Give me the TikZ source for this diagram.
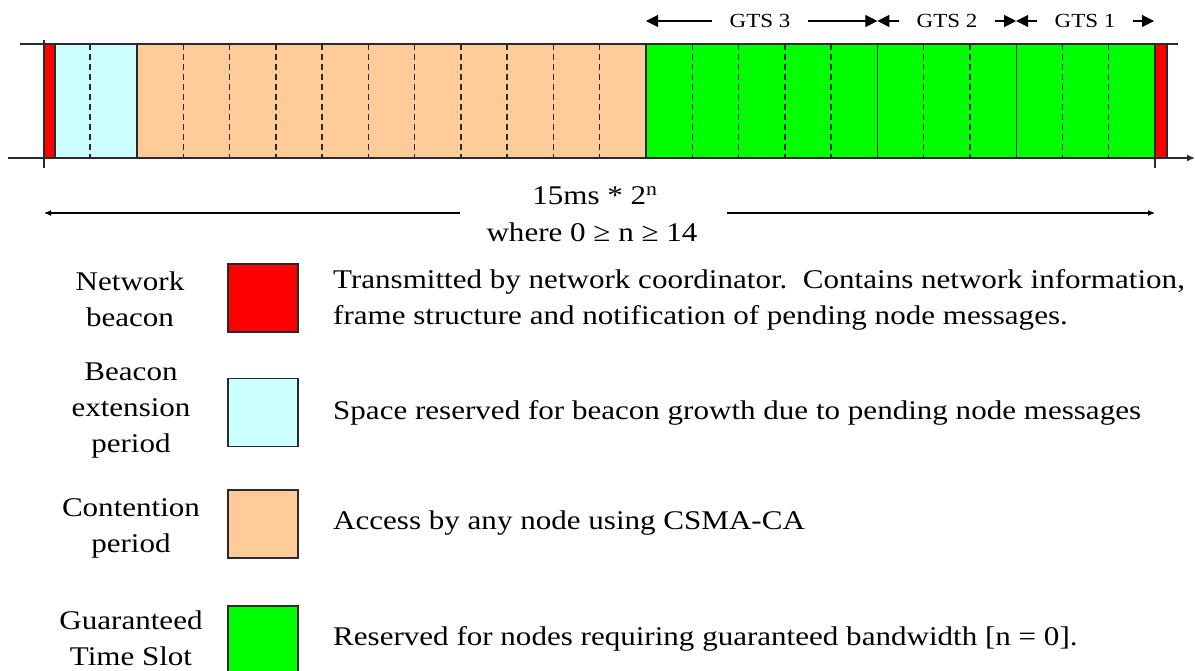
\documentclass[tikz,border=0pt]{standalone}
\usepackage{fontspec}
\setmainfont[FakeStretch=1.15]{Liberation Serif}
\usetikzlibrary{arrows.meta}
\definecolor{beaconred}{HTML}{FF0000}
\definecolor{extcyan}{HTML}{CCFFFF}
\definecolor{contorange}{HTML}{FFCC99}
\definecolor{gtsgreen}{HTML}{00FF00}
\definecolor{edge}{HTML}{2A2A2A}
\begin{document}
\begin{tikzpicture}[x=1pt,y=-1pt,
  seg/.style={draw=edge, line width=1.4pt},
  slot/.style={draw=edge, line width=1.5pt, dash pattern=on 6pt off 4pt},
  axis/.style={draw=edge, line width=1.4pt},
  lbl/.style={font=\fontsize{27}{36}\selectfont, align=center, inner sep=0},
  desc/.style={font=\fontsize{27}{36}\selectfont, align=left, anchor=west, inner sep=0},
  gts/.style={font=\fontsize{20}{24}\selectfont, inner xsep=17pt, inner ysep=0},
  gtsarrow/.style={-{Triangle[length=12pt,width=12pt]}, line width=1.1pt},
  spanarrow/.style={-{Latex[length=7pt,width=6pt]}, line width=1.1pt},
  key/.style={draw=edge, line width=1.2pt, minimum width=70pt, minimum height=68pt, inner sep=0}
]
\useasboundingbox (0,0) rectangle (1195,671);

% ---- frame segments ----
\fill[beaconred] (44,44) rectangle (55,158);
\fill[extcyan] (55,44) rectangle (137,158);
\fill[contorange] (137,44) rectangle (646,158);
\fill[gtsgreen] (646,44) rectangle (1155,158);
\fill[beaconred] (1155,44) rectangle (1167,158);

% dashed slot boundaries
\draw[slot] (90,44) -- (90,158);
\foreach \k in {1,...,10} {
  \draw[slot] ({137+46.27*\k},44) -- ({137+46.27*\k},158);
}
\foreach \k in {1,2,3,4,6,7,9,10} {
  \draw[slot] ({646+46.27*\k},44) -- ({646+46.27*\k},158);
}
% solid boundaries
\foreach \xx in {55,137,646,877.4,1016.2,1155,1167} {
  \draw[seg] (\xx,44) -- (\xx,158);
}
% frame lines and ticks
\draw[axis] (20,44) -- (1178,44);
\draw[axis,-{Latex[length=8pt,width=7pt]}] (8,158) -- (1195,158);
\draw[axis] (44,40) -- (44,168);
\draw[axis] (1155,158) -- (1155,168);

% ---- GTS markers ----
\coordinate (b3) at (646,21);
\coordinate (b2) at (877.4,21);
\coordinate (b1) at (1016.2,21);
\coordinate (b0) at (1154,21);
\node[gts] (g3) at (760,21) {GTS 3};
\node[gts] (g2) at (947,21) {GTS 2};
\node[gts] (g1) at (1085,21) {GTS 1};
\draw[gtsarrow] (g3.west) -- (b3);
\draw[gtsarrow] (g3.east) -- (b2);
\draw[gtsarrow] (g2.west) -- (b2);
\draw[gtsarrow] (g2.east) -- (b1);
\draw[gtsarrow] (g1.west) -- (b1);
\draw[gtsarrow] (g1.east) -- (b0);

% ---- superframe length ----
\node[lbl, anchor=base] (len1) at (595,205) {15ms * 2\textsuperscript{n}};
\node[lbl, anchor=base] (len2) at (592,242) {where 0 ≥ n ≥ 14};
\coordinate (sa) at (460,213);
\coordinate (sb) at (727,213);
\coordinate (spanL) at (44,213);
\coordinate (spanR) at (1155,213);
\draw[spanarrow] (sa) -- (spanL);
\draw[spanarrow] (sb) -- (spanR);

% ---- legend ----
\node[key, fill=beaconred] (k1) at (263,298) {};
\node[key, fill=extcyan] (k2) at (263,412.5) {};
\node[key, fill=contorange] (k3) at (263,524) {};
\node[key, fill=gtsgreen] (k4) at (263,640) {};

\node[lbl] (l1) at (130,299) {Network\\beacon};
\node[lbl] (l2) at (131,411) {Beacon\\extension\\period};
\node[lbl] (l3) at (131,528) {Contention\\period};
\node[lbl] (l4) at (131,638) {Guaranteed\\Time Slot};

\node[desc] (d1) at (333,300) {Transmitted by network coordinator.\ \ Contains network information,\\frame structure and notification of pending node messages.};
\node[desc] (d2) at (333,413) {Space reserved for beacon growth due to pending node messages};
\node[desc] (d3) at (333,523) {Access by any node using CSMA-CA};
\node[desc] (d4) at (333,639) {Reserved for nodes requiring guaranteed bandwidth [n = 0].};
\end{tikzpicture}
\end{document}
